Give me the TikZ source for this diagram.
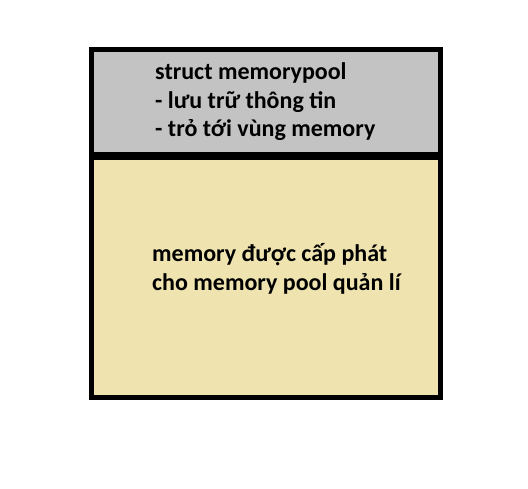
\documentclass[tikz,border=0pt]{standalone}
\usepackage{fontspec}
\setmainfont{Carlito}
\definecolor{boxgray}{RGB}{195,195,195}
\definecolor{boxbeige}{RGB}{239,228,176}
\begin{document}
\begin{tikzpicture}[x=1pt,y=-1pt,
  box/.style={draw=black,line width=5pt},
  label/.style={anchor=base west,inner sep=0pt,align=left,font=\bfseries\fontsize{24}{28.8}\selectfont}]
\useasboundingbox (0,0) rectangle (528,489);
\fill[white] (0,0) rectangle (528,489);
\draw[box,fill=boxgray] (91.5,49.5) rectangle (440.5,154.5);
\draw[box,fill=boxbeige] (91.5,157.5) rectangle (440.5,397.5);
\node[label] (top) at (155,137) {struct memorypool\\- lưu trữ thông tin\\- trỏ tới vùng memory};
\node[label] (bottom) at (152,290.5) {memory được cấp phát\\cho memory pool quản lí};
\end{tikzpicture}
\end{document}
